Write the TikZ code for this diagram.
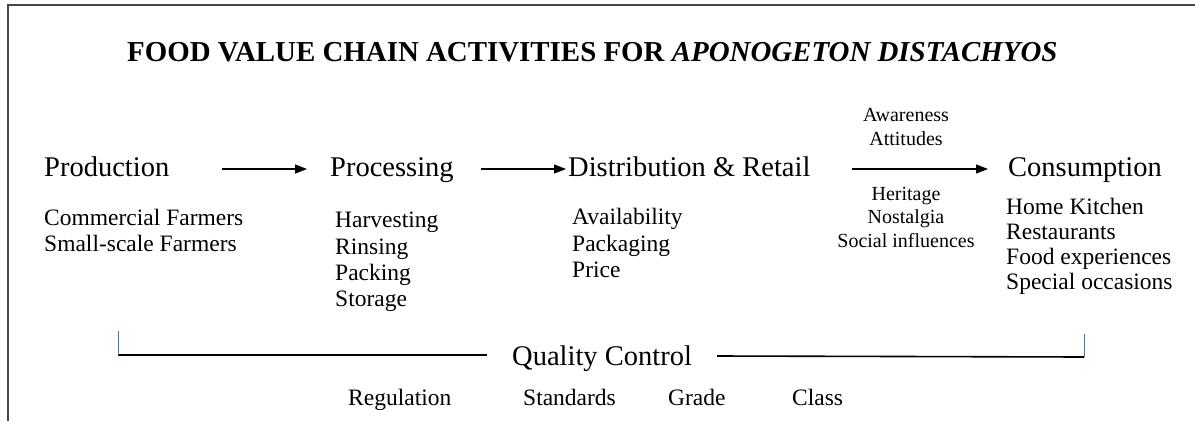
\documentclass[tikz,border=0pt]{standalone}
\usepackage{fontspec}
\setmainfont{Liberation Serif}
\usetikzlibrary{arrows.meta}

\definecolor{tickblue}{RGB}{68,114,196}
\definecolor{framegray}{RGB}{70,70,70}

\tikzset{
  stage/.style={anchor=base west, inner sep=0pt, font=\fontsize{28.5}{30}\selectfont},
  item/.style={anchor=base west, inner sep=0pt, font=\fontsize{23.5}{26}\selectfont},
  cue/.style={anchor=base, inner sep=0pt, font=\fontsize{20}{22}\selectfont},
  flow/.style={line width=1.3pt, -{Triangle[length=12pt,width=9pt]}},
}

\begin{document}
\begin{tikzpicture}[x=1pt,y=-1pt]
\useasboundingbox (0,0) rectangle (1195,421);

% frame, only its top and left sides are in view
\draw[line width=2pt, framegray] (8,421) -- (8,5) -- (1195,5);

\path (127,61) node[anchor=base west, inner sep=0pt, font=\fontsize{28.9}{30}\selectfont\bfseries] (title)
        {FOOD VALUE CHAIN ACTIVITIES FOR \textit{APONOGETON DISTACHYOS}}
      (44,176) node[stage] (prod) {Production}
      (330,176) node[stage] (proc) {Processing}
      (568,176) node[stage] (dist) {Distribution \& Retail}
      (1008,176) node[stage] (cons) {Consumption}
      (44,225) node[item] (farm1) {Commercial Farmers}
      (44,251) node[item] (farm2) {Small-scale Farmers}
      (335,227) node[item] (harv) {Harvesting}
      (335,254) node[item] (rins) {Rinsing}
      (335,280) node[item] (pack) {Packing}
      (335,306) node[item] (stor) {Storage}
      (572,224) node[item] (avail) {Availability}
      (572,251) node[item] (pkg) {Packaging}
      (572,277) node[item] (price) {Price}
      (1006,214) node[item] (home) {Home Kitchen}
      (1006,239) node[item] (rest) {Restaurants}
      (1006,264) node[item] (exp) {Food experiences}
      (1006,289) node[item] (occ) {Special occasions}
      (906,121) node[cue] (aware) {Awareness}
      (906,145) node[cue] (att) {Attitudes}
      (906,200) node[cue] (herit) {Heritage}
      (906,223) node[cue] (nost) {Nostalgia}
      (906,247) node[cue] (soc) {Social influences}
      (512,365) node[stage] (qc) {Quality Control}
      (348,405) node[item] (reg) {Regulation}
      (523,405) node[item] (std) {Standards}
      (668,405) node[item] (grade) {Grade}
      (792,405) node[item] (class) {Class}
;

\path (222,169) coordinate (a1) (307,169) coordinate (b1)
      (481,169) coordinate (a2) (566,169) coordinate (b2)
      (852,169) coordinate (a3) (988,169) coordinate (b3)
      (118,331) coordinate (qcl) (118,355) coordinate (ql)
      (487,355) coordinate (qa) (717,356) coordinate (qb)
      (1084,357) coordinate (qr) (1084,334) coordinate (qcr);

\draw[flow] (a1) -- (b1);
\draw[flow] (a2) -- (b2);
\draw[flow] (a3) -- (b3);

\draw[line width=1.6pt] (ql) -- (qa);
\draw[line width=1.6pt] (qb) -- (qr);
\draw[tickblue, line width=1pt] (qcl) -- (ql);
\draw[tickblue, line width=1pt] (qcr) -- (qr);

\end{tikzpicture}
\end{document}
